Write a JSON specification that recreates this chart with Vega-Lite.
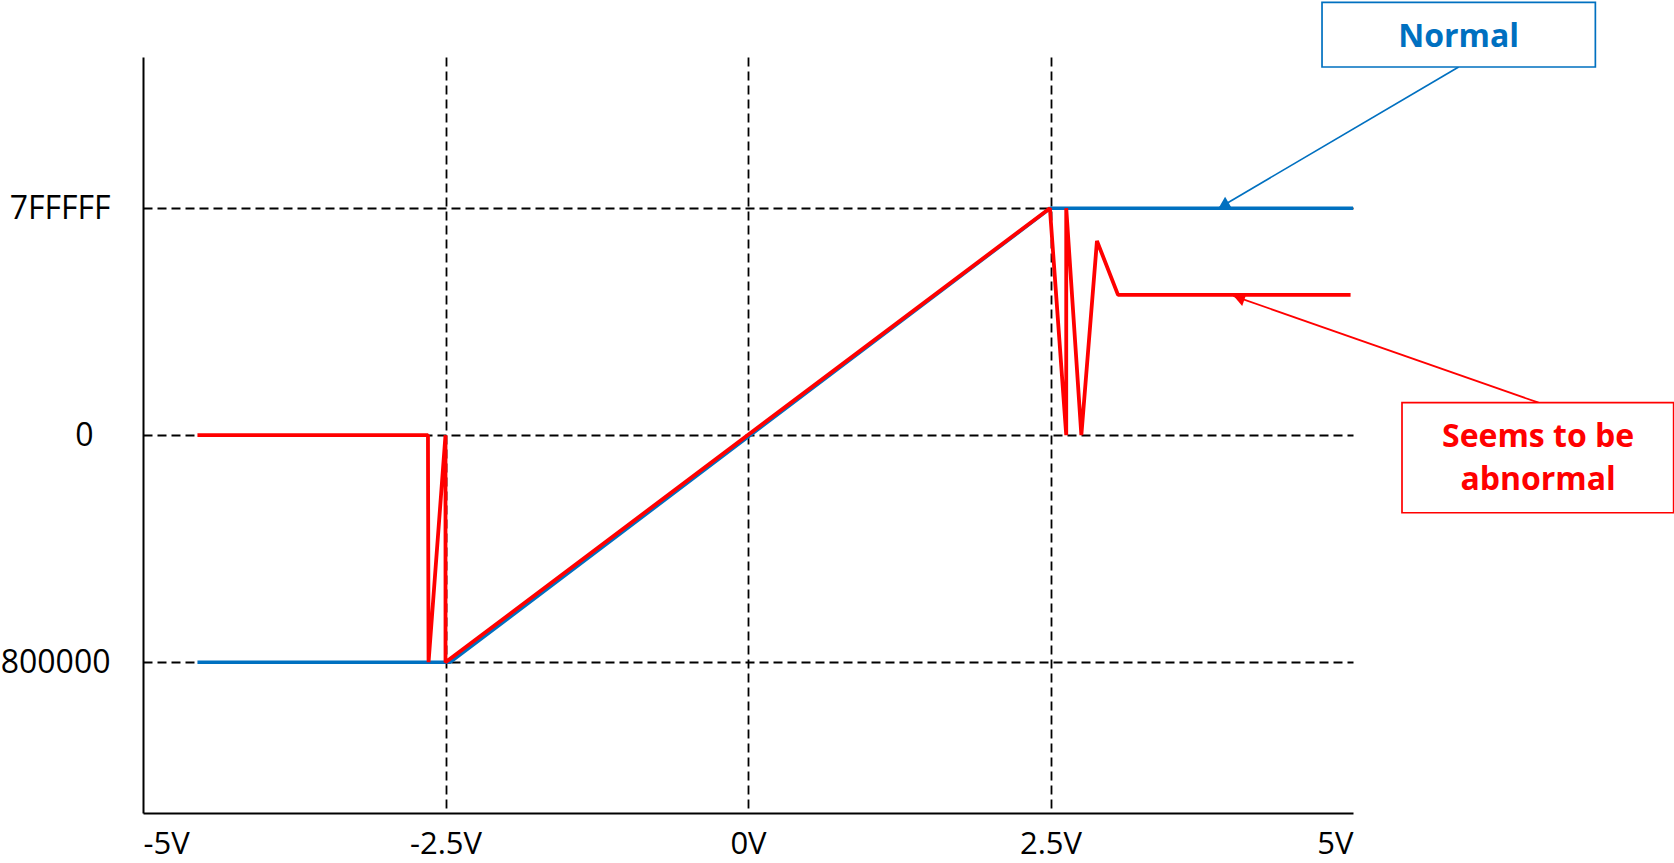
{
  "$schema": "https://vega.github.io/schema/vega-lite/v6.json",
  "autosize": "none",
  "width": 1210,
  "height": 756,
  "padding": {"left": 143, "top": 57, "right": 321, "bottom": 50},
  "background": "white",
  "config": {
    "view": {"stroke": null},
    "font": "Open Sans",
    "axis": {
      "domainColor": "black",
      "domainWidth": 2,
      "ticks": false,
      "tickSize": 0,
      "labelFont": "Open Sans",
      "labelFontSize": 32,
      "labelColor": "black",
      "grid": true,
      "gridColor": "black",
      "gridWidth": 1.8,
      "gridDash": [9, 5],
      "title": null
    }
  },
  "datasets": {
    "blue": [
      {"volt": -4.55, "code": -8388608, "i": 0},
      {"volt": -2.46, "code": -8388608, "i": 1},
      {"volt": 2.5, "code": 8388607, "i": 2},
      {"volt": 5.0, "code": 8388607, "i": 3}
    ],
    "red": [
      {"volt": -4.55, "code": 0, "i": 0},
      {"volt": -2.645, "code": 0, "i": 1},
      {"volt": -2.64, "code": -8388608, "i": 2},
      {"volt": -2.5, "code": 0, "i": 3},
      {"volt": -2.5, "code": -8388608, "i": 4},
      {"volt": 2.495, "code": 8388607, "i": 5},
      {"volt": 2.63, "code": 0, "i": 6},
      {"volt": 2.63, "code": 8388607, "i": 7},
      {"volt": 2.755, "code": 0, "i": 8},
      {"volt": 2.884, "code": 7180000, "i": 9},
      {"volt": 3.058, "code": 5184000, "i": 10},
      {"volt": 4.98, "code": 5184000, "i": 11}
    ],
    "boxes": [
      {"kind": "Normal", "x1": 4.744, "x2": 7.003, "y1": 15993717, "y2": 13604643},
      {"kind": "Abnormal", "x1": 5.405, "x2": 7.65, "y1": 1202087, "y2": -2865548}
    ],
    "labels": [
      {"kind": "Normal", "text": "Normal", "volt": 5.873, "code": 14700000},
      {"kind": "Abnormal", "text": "Seems to be", "volt": 6.53, "code": -55365},
      {"kind": "Abnormal", "text": "abnormal", "volt": 6.53, "code": -1644167}
    ],
    "connectors": [
      {"kind": "Normal", "volt": 5.873, "code": 13604643, "volt2": 3.888, "code2": 8388607},
      {"kind": "Abnormal", "volt": 6.534, "code": 1202087, "volt2": 4.011, "code2": 5147249}
    ]
  },
  "layer": [
    {
      "data": {"name": "connectors"},
      "mark": {"type": "rule", "strokeWidth": 1.7},
      "encoding": {
        "x": {"field": "volt", "type": "quantitative", "scale": {"domain": [-5, 5], "nice": false, "zero": false},
          "axis": {"values": [-5, -2.5, 0, 2.5, 5], "labelExpr": "datum.value + 'V'", "labelPadding": 16, "labelFontSize": 31,
            "gridOpacity": {"condition": {"test": "abs(datum.value) == 5", "value": 0}, "value": 1}}},
        "y": {"field": "code", "type": "quantitative", "scale": {"domain": [-13960000, 13975000], "nice": false, "zero": false},
          "axis": {"values": [-8388608, 0, 8388607],
            "labelExpr": "datum.value == 0 ? '0' : (datum.value > 0 ? '7FFFFF' : '800000')",
            "labelBaseline": "middle",
            "labelPadding": {"condition": {"test": "datum.value == 0", "value": 50}, "value": 33}}},
        "x2": {"field": "volt2"},
        "y2": {"field": "code2"},
        "color": {"field": "kind", "type": "nominal", "scale": {"domain": ["Normal", "Abnormal"], "range": ["#0070C0", "#FF0000"]}, "legend": null}
      }
    },
    {
      "data": {"values": [{"kind": "Normal", "volt": 3.93, "code": 8501016}]},
      "mark": {"type": "point", "shape": "triangle-up", "filled": true, "opacity": 1, "size": 170, "angle": 239.6},
      "encoding": {
        "x": {"field": "volt", "type": "quantitative"},
        "y": {"field": "code", "type": "quantitative"},
        "color": {"field": "kind", "type": "nominal", "legend": null}
      }
    },
    {
      "data": {"values": [{"kind": "Abnormal", "volt": 4.058, "code": 5073429}]},
      "mark": {"type": "point", "shape": "triangle-up", "filled": true, "opacity": 1, "size": 170, "angle": 289.3},
      "encoding": {
        "x": {"field": "volt", "type": "quantitative"},
        "y": {"field": "code", "type": "quantitative"},
        "color": {"field": "kind", "type": "nominal", "legend": null}
      }
    },
    {
      "data": {"name": "blue"},
      "mark": {"type": "line", "color": "#0070C0", "strokeWidth": 3.4, "strokeJoin": "bevel"},
      "encoding": {
        "x": {"field": "volt", "type": "quantitative"},
        "y": {"field": "code", "type": "quantitative"},
        "order": {"field": "i", "type": "quantitative"}
      }
    },
    {
      "data": {"name": "red"},
      "mark": {"type": "line", "color": "#FF0000", "strokeWidth": 3.8, "strokeJoin": "bevel"},
      "encoding": {
        "x": {"field": "volt", "type": "quantitative"},
        "y": {"field": "code", "type": "quantitative"},
        "order": {"field": "i", "type": "quantitative"}
      }
    },
    {
      "data": {"name": "boxes"},
      "mark": {"type": "rect", "fill": "white", "strokeWidth": 1.7},
      "encoding": {
        "x": {"field": "x1", "type": "quantitative"},
        "x2": {"field": "x2"},
        "y": {"field": "y1", "type": "quantitative"},
        "y2": {"field": "y2"},
        "stroke": {"field": "kind", "type": "nominal", "scale": {"domain": ["Normal", "Abnormal"], "range": ["#0070C0", "#FF0000"]}, "legend": null}
      }
    },
    {
      "data": {"name": "labels"},
      "mark": {"type": "text", "font": "Open Sans", "fontSize": 32, "fontWeight": "bold", "align": "center", "baseline": "middle"},
      "encoding": {
        "x": {"field": "volt", "type": "quantitative"},
        "y": {"field": "code", "type": "quantitative"},
        "text": {"field": "text"},
        "color": {"field": "kind", "type": "nominal", "legend": null}
      }
    }
  ]
}
